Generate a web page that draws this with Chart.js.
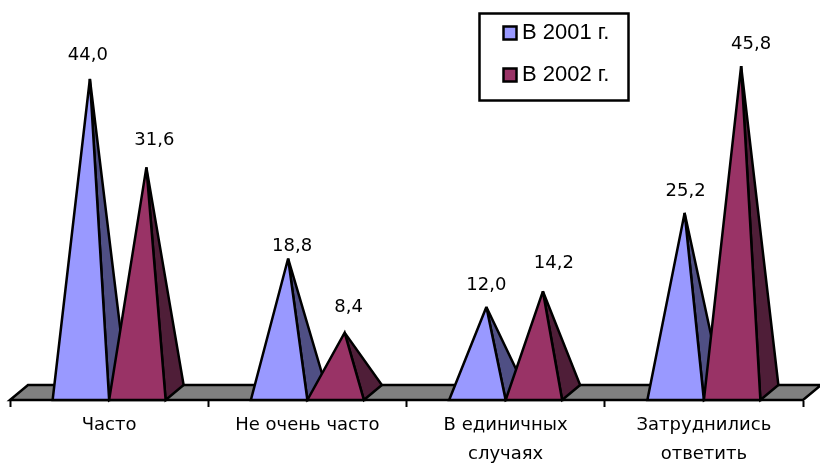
<!DOCTYPE html>
<html>
<head>
<meta charset="utf-8">
<title>Pyramid chart</title>
<style>
  html, body { margin: 0; padding: 0; background: #fff; }
  canvas { display: block; }
</style>
<script src="https://cdn.jsdelivr.net/npm/chart.js@4"></script>
</head>
<body>
<canvas id="myChart" width="820" height="464"></canvas>
<script>
var categories = [
  "Часто",
  "Не очень часто",
  ["В единичных", "случаях"],
  ["Затруднились", "ответить"]
];
var seriesNames = ["В 2001 г.", "В 2002 г."];
var values2001 = [44.0, 18.8, 12.0, 25.2];
var values2002 = [31.6, 8.4, 14.2, 45.8];

var frontColors = ["#9999ff", "#993366"];
var sideColors = ["#4f4f84", "#4f1e38"];

// excel dragged the labels around by hand, so each one has its own shift from the apex
var labelShiftX = [[-2, 4, 0, 1], [8, 4, 11, 10]];
var labelShiftY = [[-24, -12, -22, -22], [-27, -25, -28, -22]];

var depthX = 18;
var depthY = 15;
var labelFont = "18px 'DejaVu Sans'";
var legendFont = "22px 'Liberation Sans'";

function poly(ctx, pts, fill) {
  ctx.beginPath();
  ctx.moveTo(pts[0][0], pts[0][1]);
  for (var i = 1; i < pts.length; i++) {
    ctx.lineTo(pts[i][0], pts[i][1]);
  }
  ctx.closePath();
  ctx.fillStyle = fill;
  ctx.fill();
  ctx.stroke();
}

var pyramidPlugin = {
  id: "pyramids",
  afterDatasetsDraw: function (chart) {
    var ctx = chart.ctx;
    var area = chart.chartArea;
    ctx.save();
    ctx.strokeStyle = "#000";
    ctx.lineWidth = 2.5;
    ctx.lineJoin = "miter";
    ctx.miterLimit = 3;

    // floor
    poly(ctx, [
      [area.left, area.bottom],
      [area.left + depthX, area.bottom - depthY],
      [area.right + depthX, area.bottom - depthY],
      [area.right, area.bottom]
    ], "#808080");

    var apexes = [[], []];
    for (var c = 0; c < categories.length; c++) {
      for (var d = 0; d < chart.data.datasets.length; d++) {
        var bar = chart.getDatasetMeta(d).data[c];
        var left = bar.x - bar.width / 2;
        var right = bar.x + bar.width / 2;
        var apex = [bar.x + depthX / 2, bar.y - depthY / 2];
        apexes[d][c] = apex;
        poly(ctx, [[right, bar.base], [right + depthX, bar.base - depthY], apex], sideColors[d]);
        poly(ctx, [[left, bar.base], [right, bar.base], apex], frontColors[d]);
      }
    }

    // value labels
    ctx.fillStyle = "#000";
    ctx.font = labelFont;
    ctx.textAlign = "center";
    ctx.textBaseline = "middle";
    chart.data.datasets.forEach(function (ds, d) {
      ds.data.forEach(function (v, c) {
        ctx.fillText(
          v.toFixed(1).replace(".", ","),
          apexes[d][c][0] + labelShiftX[d][c],
          apexes[d][c][1] + labelShiftY[d][c]
        );
      });
    });

    // legend box
    ctx.strokeRect(479.5, 13.5, 149, 87);
    ctx.font = legendFont;
    ctx.textAlign = "left";
    seriesNames.forEach(function (name, i) {
      var y = 33 + i * 42;
      ctx.fillStyle = frontColors[i];
      ctx.fillRect(503.5, y - 6.5, 13, 13);
      ctx.strokeRect(503.5, y - 6.5, 13, 13);
      ctx.fillStyle = "#000";
      ctx.fillText(name, 522, y);
    });
    ctx.restore();
  }
};

window.onload = function () {
  var ctx = document.getElementById("myChart").getContext("2d");
  new Chart(ctx, {
    type: "bar",
    data: {
      labels: categories,
      datasets: [
        { label: seriesNames[0], data: values2001, backgroundColor: "transparent" },
        { label: seriesNames[1], data: values2002, backgroundColor: "transparent" }
      ]
    },
    options: {
      responsive: false,
      animation: false,
      layout: { padding: { left: 10, right: 17, top: 1, bottom: 0 } },
      datasets: { bar: { categoryPercentage: 0.57, barPercentage: 1 } },
      plugins: {
        legend: { display: false },
        tooltip: { enabled: false }
      },
      scales: {
        x: {
          afterFit: function (scale) { scale.height = 64; },
          grid: { drawOnChartArea: false, tickLength: 7, tickColor: "#000", tickWidth: 2 },
          border: { color: "#000", width: 2 },
          ticks: {
            color: "#000",
            maxRotation: 0,
            minRotation: 0,
            padding: 4,
            font: { family: "'DejaVu Sans'", size: 18, lineHeight: 1.6 }
          }
        },
        y: {
          display: false,
          min: 0,
          max: 56
        }
      }
    },
    plugins: [pyramidPlugin]
  });
};
</script>
</body>
</html>
